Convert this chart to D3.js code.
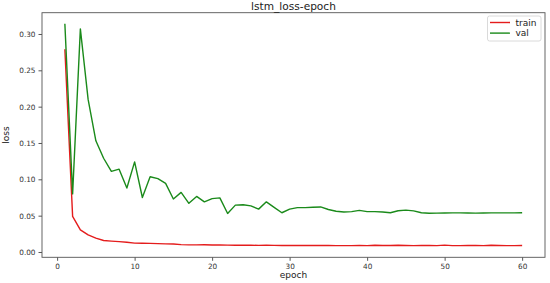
<!DOCTYPE html>
<html>
<head>
<meta charset="utf-8">
<script src="https://cdn.jsdelivr.net/npm/d3@7"></script>
<style>
html,body{margin:0;padding:0;background:#fff;}
svg{display:block;font-family:"DejaVu Sans",sans-serif;}
</style>
</head>
<body>
<svg id="chart" width="550" height="283"></svg>
<script>
const epochs = d3.range(1, 61);
const trainLoss = [
  0.279, 0.049, 0.0305, 0.0235, 0.019, 0.0158, 0.0150, 0.0142, 0.0134, 0.0122,
  0.0121, 0.0118, 0.0115, 0.0112, 0.0111, 0.0102, 0.0098, 0.0098, 0.0099, 0.0097,
  0.0096, 0.0094, 0.0093, 0.0092, 0.0093, 0.0091, 0.0093, 0.0091, 0.0090, 0.0090,
  0.0089, 0.0090, 0.0089, 0.0089, 0.0090, 0.0088, 0.0087, 0.0088, 0.0091, 0.0088,
  0.0092, 0.0089, 0.0090, 0.0092, 0.0089, 0.0088, 0.0089, 0.0091, 0.0087, 0.0094,
  0.0088, 0.0087, 0.0089, 0.0090, 0.0088, 0.0092, 0.0090, 0.0088, 0.0088, 0.0089
];
const valLoss = [
  0.314, 0.080, 0.307, 0.210, 0.153, 0.129, 0.111, 0.114, 0.088, 0.124,
  0.075, 0.1035, 0.101, 0.0945, 0.073, 0.082, 0.067, 0.0765, 0.069, 0.0735,
  0.0745, 0.053, 0.0645, 0.065, 0.0635, 0.059, 0.069, 0.0615, 0.054, 0.059,
  0.061, 0.061, 0.0615, 0.062, 0.0585, 0.056, 0.055, 0.0555, 0.0573, 0.0555,
  0.0555, 0.055, 0.054, 0.0568, 0.0576, 0.0566, 0.054, 0.0534, 0.0535, 0.0537,
  0.0538, 0.0538, 0.0537, 0.0535, 0.0537, 0.0539, 0.0538, 0.0538, 0.0538, 0.0540
];
const xTicks = [0, 10, 20, 30, 40, 50, 60];
const yTicks = [0.00, 0.05, 0.10, 0.15, 0.20, 0.25, 0.30];
const seriesNames = ["train", "val"];
const seriesColors = ["#e41c1c", "#1a8a1a"];

(function () {
const svg = d3.select("#chart");
const mLeft = 42, mRight = 545, mTop = 12.7, mBottom = 257.3;

const x = d3.scaleLinear().domain([-1.95, 62.95]).range([mLeft, mRight]);
const y = d3.scaleLinear().domain([-0.0073, 0.3293]).range([mBottom, mTop]);

const xAxis = d3.axisBottom(x).tickValues(xTicks).tickFormat(d3.format("d")).tickSize(3.5).tickPadding(3);
const yAxis = d3.axisLeft(y).tickValues(yTicks).tickFormat(d3.format(".2f")).tickSize(3.5).tickPadding(3);

const gx = svg.append("g").attr("transform", `translate(0,${mBottom})`).call(xAxis);
const gy = svg.append("g").attr("transform", `translate(${mLeft},0)`).call(yAxis);
[gx, gy].forEach(g => {
  g.select(".domain").remove();
  g.selectAll(".tick line").attr("stroke", "#444").attr("stroke-width", 0.9);
  g.selectAll(".tick text").attr("fill", "#333").style("font-size", "7.3px").style("font-family", "DejaVu Sans");
});

const line = d3.line().x((d, i) => x(epochs[i])).y(d => y(d));
[trainLoss, valLoss].forEach((s, k) => {
  svg.append("path").datum(s)
    .attr("d", line)
    .attr("fill", "none")
    .attr("stroke", seriesColors[k])
    .attr("stroke-width", 1.4)
    .attr("stroke-linejoin", "round");
});

svg.append("rect").attr("x", mLeft).attr("y", mTop)
  .attr("width", mRight - mLeft).attr("height", mBottom - mTop)
  .attr("fill", "none").attr("stroke", "#555").attr("stroke-width", 0.9);

svg.append("text").attr("x", (mLeft + mRight) / 2).attr("y", 9.5)
  .attr("text-anchor", "middle").style("font-size", "10.6px").attr("fill", "#222")
  .text("lstm_loss-epoch");
svg.append("text").attr("x", (mLeft + mRight) / 2).attr("y", 277.5)
  .attr("text-anchor", "middle").style("font-size", "9px").attr("fill", "#222")
  .text("epoch");
svg.append("text").attr("transform", `translate(8.5,${(mTop + mBottom) / 2}) rotate(-90)`)
  .attr("text-anchor", "middle").style("font-size", "9px").attr("fill", "#222")
  .text("loss");

const lg = svg.append("g");
lg.append("rect").attr("x", 487.5).attr("y", 16).attr("width", 53.5).attr("height", 25)
  .attr("rx", 2).attr("fill", "#fff").attr("stroke", "#d0d0d0").attr("stroke-width", 0.8);
seriesNames.forEach((name, i) => {
  const yy = 22.5 + i * 10.6;
  lg.append("line").attr("x1", 490).attr("x2", 510).attr("y1", yy).attr("y2", yy)
    .attr("stroke", seriesColors[i]).attr("stroke-width", 1.4);
  lg.append("text").attr("x", 515.5).attr("y", yy + 3).style("font-size", "9px").attr("fill", "#222").text(name);
});
})();
</script>
</body>
</html>
